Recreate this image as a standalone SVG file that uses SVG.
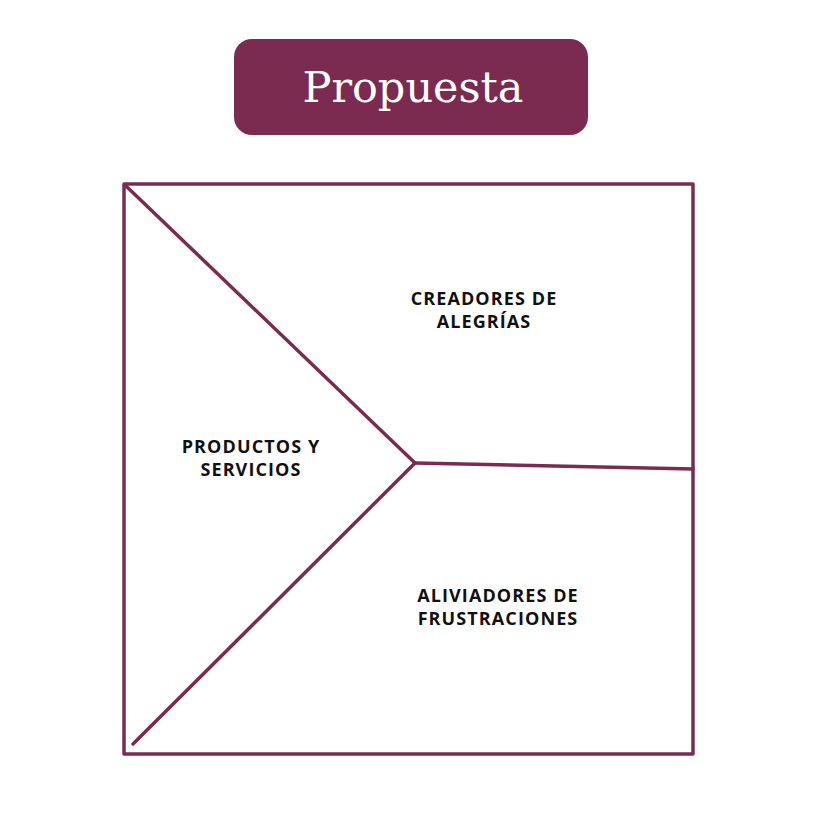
<svg xmlns="http://www.w3.org/2000/svg" width="834" height="834" viewBox="0 0 834 834">
<style>
.ln{stroke:#7b2b50;stroke-width:3.5;fill:none;stroke-linecap:round;stroke-linejoin:round}
.lb{font-family:"Open Sans","Liberation Sans",sans-serif;font-weight:700;font-size:18px;fill:#111;text-anchor:middle;letter-spacing:1.1px}
</style>
<rect width="834" height="834" fill="#fff"/>
<g id="title">
<rect x="234" y="39" width="354" height="96" rx="18" fill="#7b2b50"/>
<text x="413" y="102" font-family="DejaVu Serif,serif" font-size="43" fill="#fff" text-anchor="middle">Propuesta</text>
</g>
<g id="frame">
<rect class="ln" x="124" y="184" width="569" height="570" stroke-linecap="butt" stroke-linejoin="miter"/>
</g>
<g id="connectors">
<line class="ln" x1="126" y1="186" x2="415" y2="463"/>
<line class="ln" x1="415" y1="463" x2="693" y2="469"/>
<line class="ln" x1="415" y1="463" x2="133" y2="744"/>
</g>
<g id="productos">
<text class="lb" x="251" y="453">PRODUCTOS Y</text>
<text class="lb" x="251" y="476">SERVICIOS</text>
</g>
<g id="creadores">
<text class="lb" x="484" y="305">CREADORES DE</text>
<text class="lb" x="484" y="328">ALEGRÍAS</text>
</g>
<g id="aliviadores">
<text class="lb" x="498" y="602">ALIVIADORES DE</text>
<text class="lb" x="498" y="625">FRUSTRACIONES</text>
</g>
</svg>
